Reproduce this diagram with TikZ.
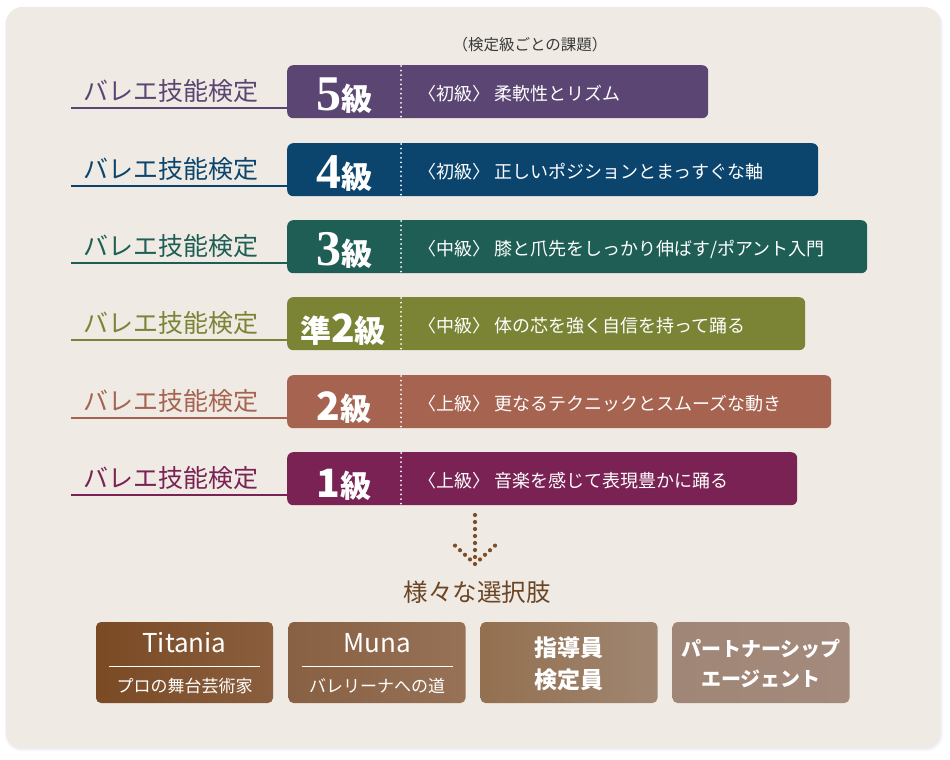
\documentclass[tikz,border=0pt]{standalone}
\usepackage{fontspec}
\setmainfont{Noto Sans CJK JP}
\newfontfamily\digitfont{Liberation Serif}
\newcommand{\setfs}[1]{\fontsize{#1}{#1}\selectfont}
\definecolor{panel}{HTML}{EFEBE4}
\definecolor{kyu5}{HTML}{5B4573}
\definecolor{kyu4}{HTML}{0B456E}
\definecolor{kyu3}{HTML}{1F5E55}
\definecolor{kyuj2}{HTML}{7A8434}
\definecolor{kyu2}{HTML}{A6634F}
\definecolor{kyu1}{HTML}{7A2253}
\definecolor{dotbrown}{HTML}{7D4E28}
\definecolor{textbrown}{HTML}{6B4525}
\definecolor{headgray}{HTML}{3A3A3A}
\definecolor{titaniaL}{HTML}{7A4A24}
\definecolor{titaniaR}{HTML}{8A5E3E}
\definecolor{munaL}{HTML}{886043}
\definecolor{munaR}{HTML}{977257}
\definecolor{coachL}{HTML}{93704F}
\definecolor{coachR}{HTML}{A08672}
\definecolor{agentL}{HTML}{A08676}
\definecolor{agentR}{HTML}{A38A7C}
\tikzset{
  lvlname/.style={anchor=base west, inner sep=0, font=\setfs{25pt}},
  lvlbox/.style={anchor=north west, rounded corners=6pt, minimum height=53pt, inner sep=0},
  grade/.style={anchor=base, inner sep=0, text=white, font=\setfs{31pt}\bfseries},
  task/.style={anchor=base west, inner sep=0, text=white, font=\setfs{18pt}},
  divider/.style={white, line width=2pt, line cap=round, dash pattern=on 0pt off 4.6pt},
  uline/.style={line width=1.3pt},
  pathbox/.style={rounded corners=5pt, minimum width=177pt, minimum height=81pt, inner sep=0},
  pathtext/.style={text=white, inner sep=0, align=center}
}
\begin{document}
\begin{tikzpicture}[x=1pt,y=-1pt]
\useasboundingbox (0,0) rectangle (950,760);
\fill[white] (0,0) rectangle (950,760);
% soft shadow and panel
\fill[black, opacity=0.04, rounded corners=17pt] (5,8) rectangle (943,751);
\fill[black, opacity=0.04, rounded corners=16pt] (6,8) rectangle (941,749);
\fill[panel, rounded corners=15pt] (7,7) rectangle (939,746);
\node[inner sep=0, anchor=base, text=headgray, font=\setfs{15.5pt}] (head) at (530,51) {（検定級ごとの課題）};
% 5 kyu
\node[lvlbox, fill=kyu5, minimum width=421pt] (box5) at (287,65) {};
\node[lvlname, text=kyu5] (lab5) at (83,100.5) {バレエ技能検定};
\coordinate (u5) at (71,108);
\draw[uline, kyu5] (u5) -- (u5 -| box5.west);
\node[grade] (g5) at (344,110) {{\digitfont\setfs{50pt}5}級};
\draw[divider] (box5.north west) ++(114,1) -- ++(0,51);
\node[task] (t5) at (418,100) {〈初級〉 柔軟性とリズム};
% 4 kyu
\node[lvlbox, fill=kyu4, minimum width=531pt] (box4) at (287,143) {};
\node[lvlname, text=kyu4] (lab4) at (83,178.5) {バレエ技能検定};
\coordinate (u4) at (71,186);
\draw[uline, kyu4] (u4) -- (u4 -| box4.west);
\node[grade] (g4) at (344,188) {{\digitfont\setfs{50pt}4}級};
\draw[divider] (box4.north west) ++(114,1) -- ++(0,51);
\node[task] (t4) at (418,178) {〈初級〉 正しいポジションとまっすぐな軸};
% 3 kyu
\node[lvlbox, fill=kyu3, minimum width=580pt] (box3) at (287,220) {};
\node[lvlname, text=kyu3] (lab3) at (83,255.5) {バレエ技能検定};
\coordinate (u3) at (71,263);
\draw[uline, kyu3] (u3) -- (u3 -| box3.west);
\node[grade] (g3) at (344,265) {{\digitfont\setfs{50pt}3}級};
\draw[divider] (box3.north west) ++(114,1) -- ++(0,51);
\node[task] (t3) at (418,255) {〈中級〉 膝と爪先をしっかり伸ばす/ポアント入門};
% jun 2 kyu
\node[lvlbox, fill=kyuj2, minimum width=518pt] (boxj2) at (287,297) {};
\node[lvlname, text=kyuj2] (labj2) at (83,332.5) {バレエ技能検定};
\coordinate (uj2) at (71,340);
\draw[uline, kyuj2] (uj2) -- (uj2 -| boxj2.west);
\node[grade] (gj2) at (343,342) {準{\setfs{39pt}2}級};
\draw[divider] (boxj2.north west) ++(114,1) -- ++(0,51);
\node[task] (tj2) at (418,332) {〈中級〉 体の芯を強く自信を持って踊る};
% 2 kyu
\node[lvlbox, fill=kyu2, minimum width=544pt] (box2) at (287,375) {};
\node[lvlname, text=kyu2] (lab2) at (83,410.5) {バレエ技能検定};
\coordinate (u2) at (71,418);
\draw[uline, kyu2] (u2) -- (u2 -| box2.west);
\node[grade] (g2) at (344,420) {{\setfs{39pt}2}級};
\draw[divider] (box2.north west) ++(114,1) -- ++(0,51);
\node[task] (t2) at (418,410) {〈上級〉 更なるテクニックとスムーズな動き};
% 1 kyu
\node[lvlbox, fill=kyu1, minimum width=510pt] (box1) at (287,452) {};
\node[lvlname, text=kyu1] (lab1) at (83,487.5) {バレエ技能検定};
\coordinate (u1) at (71,495);
\draw[uline, kyu1] (u1) -- (u1 -| box1.west);
\node[grade] (g1) at (344,497) {{\setfs{39pt}1}級};
\draw[divider] (box1.north west) ++(114,1) -- ++(0,51);
\node[task] (t1) at (418,487) {〈上級〉 音楽を感じて表現豊かに踊る};
% dotted arrow
\foreach \k in {0,...,7} \fill[dotbrown] (475,515+7*\k) circle (2.1pt);
\foreach \k in {1,...,4} {
  \fill[dotbrown] (475-5*\k,564-4.6*\k) circle (2.1pt);
  \fill[dotbrown] (475+5*\k,564-4.6*\k) circle (2.1pt);
}
\node[inner sep=0, text=textbrown, font=\setfs{24.5pt}] (choices) at (477,592) {様々な選択肢};
% paths
\node[pathbox, left color=titaniaL, right color=titaniaR] (titania) at (184.5,662.5) {};
\node[pathtext, font=\setfs{26pt}] (titanianame) at (184.5,643) {Titania};
\coordinate (tl) at (109,666);
\draw[white, line width=1pt] (tl) -- ++(151,0);
\node[pathtext, font=\setfs{17pt}] (titaniasub) at (184.5,686) {プロの舞台芸術家};
\node[pathbox, left color=munaL, right color=munaR] (muna) at (377,662.5) {};
\node[pathtext, font=\setfs{26pt}] (munaname) at (377,643) {Muna};
\coordinate (ml) at (301.5,666);
\draw[white, line width=1pt] (ml) -- ++(151,0);
\node[pathtext, font=\setfs{17pt}] (munasub) at (377,686) {バレリーナへの道};
\node[pathbox, left color=coachL, right color=coachR] (coach) at (569,662.5) {};
\node[pathtext, font=\fontsize{23pt}{32pt}\selectfont\bfseries] (coachname) at (569,664) {指導員\\検定員};
\node[pathbox, left color=agentL, right color=agentR] (agent) at (761,662.5) {};
\node[pathtext, font=\fontsize{20pt}{30pt}\selectfont\bfseries] (agentname) at (761,663) {パートナーシップ\\エージェント};
\end{tikzpicture}
\end{document}
